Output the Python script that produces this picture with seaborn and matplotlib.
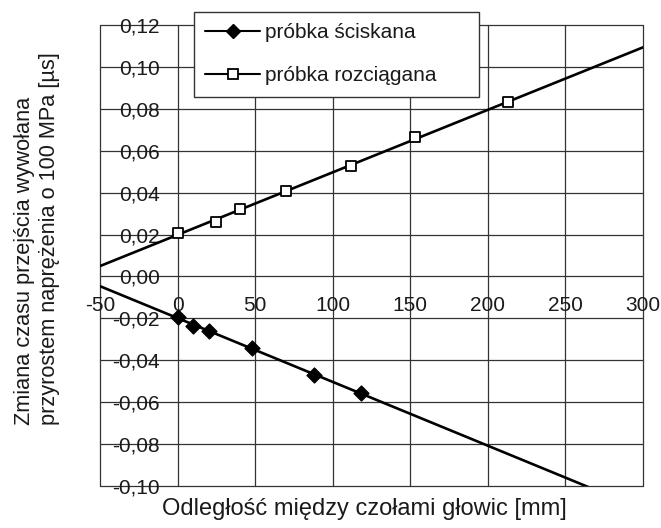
import numpy as np
import pandas as pd
import matplotlib
matplotlib.use("Agg")
import matplotlib.pyplot as plt
from matplotlib.lines import Line2D
from matplotlib.ticker import FuncFormatter
import seaborn as sns

# Compressed specimen: head spacing [mm] vs. transit time change [µs]
x_scisk = [0, 10, 20, 48, 88, 118]
y_scisk = [-0.0192, -0.0237, -0.0259, -0.0343, -0.0471, -0.0555]

# Stretched specimen
x_rozc = [0, 25, 40, 70, 112, 153, 213]
y_rozc = [0.0206, 0.0261, 0.0322, 0.0408, 0.0527, 0.0664, 0.0831]

labels = ["próbka ściskana", "próbka rozciągana"]
x_ticks = [-50, 0, 50, 100, 150, 200, 250, 300]
y_ticks = [-0.10, -0.08, -0.06, -0.04, -0.02, 0.00, 0.02, 0.04, 0.06, 0.08, 0.10, 0.12]
x_title = "Odległość między czołami głowic [mm]"
y_title = "Zmiana czasu przejścia wywołana\nprzyrostem naprężenia o 100 MPa [µs]"

df_s = pd.DataFrame({"x": x_scisk, "y": y_scisk})
df_r = pd.DataFrame({"x": x_rozc, "y": y_rozc})

sns.set_style("white")
plt.rcParams["font.family"] = ["Liberation Sans", "DejaVu Sans"]
plt.rcParams["font.size"] = 15
TXT = "#1a1a1a"
GRID = "#333333"

fig = plt.figure(figsize=(6.61, 5.28), dpi=100)
ax = fig.add_axes([100 / 661, 1 - 486 / 528, 543 / 661, 461 / 528])
ax.set_xlim(x_ticks[0], x_ticks[-1])
ax.set_ylim(y_ticks[0], y_ticks[-1])

# linear trend lines across the full x range
line_kw = dict(color="black", linewidth=1.9, zorder=3)
sns.regplot(data=df_s, x="x", y="y", ax=ax, scatter=False, ci=None,
            truncate=False, line_kws=line_kw)
sns.regplot(data=df_r, x="x", y="y", ax=ax, scatter=False, ci=None,
            truncate=False, line_kws=line_kw)

# measured points
sns.scatterplot(data=df_s, x="x", y="y", ax=ax, marker="D", s=60,
                color="black", edgecolor="black", linewidth=0.8, zorder=4)
sns.scatterplot(data=df_r, x="x", y="y", ax=ax, marker="s", s=52,
                facecolor="white", edgecolor="black", linewidth=1.3, zorder=4)

ax.set_xlim(x_ticks[0], x_ticks[-1])
ax.set_ylim(y_ticks[0], y_ticks[-1])
ax.set_xticks(x_ticks)
ax.set_yticks(y_ticks)
ax.xaxis.set_major_formatter(FuncFormatter(lambda v, p: f"{v:.0f}"))
ax.yaxis.set_major_formatter(FuncFormatter(lambda v, p: f"{v:.2f}".replace(".", ",")))

# axes cross at the origin; labels sit beside the zero lines
ax.spines["left"].set_position(("data", 0))
ax.spines["bottom"].set_position(("data", 0))
for s in ax.spines.values():
    s.set_visible(False)
ax.tick_params(axis="both", length=0, labelsize=15, labelcolor=TXT)
ax.tick_params(axis="x", pad=14)
ax.tick_params(axis="y", pad=13)

ax.grid(True, color=GRID, linewidth=0.9)
ax.set_axisbelow(True)
for gl in ax.get_xgridlines() + ax.get_ygridlines():
    gl.set_clip_on(False)

ax.set_xlabel("")
ax.set_ylabel("")
fig.text(364 / 661, 1 - 509 / 528, x_title, ha="center", va="center",
         fontsize=17, color=TXT)
fig.text(37 / 661, 1 - 425 / 528, y_title, ha="center", va="bottom",
         rotation=90, multialignment="left", fontsize=15.7, color=TXT,
         linespacing=1.2)

handles = [
    Line2D([], [], color="black", lw=1.5, marker="D", markersize=7.6,
           markerfacecolor="black", markeredgecolor="black"),
    Line2D([], [], color="black", lw=1.5, marker="s", markersize=7.2,
           markerfacecolor="white", markeredgecolor="black", markeredgewidth=1.3),
]
leg = fig.legend(handles, labels, loc="upper left",
                 bbox_to_anchor=(194 / 661, 1 - 97 / 528, 285 / 661, 85 / 528),
                 mode="expand", borderaxespad=0, fontsize=15, frameon=True,
                 fancybox=False, framealpha=1, edgecolor=GRID, borderpad=0.55,
                 labelspacing=1.15, handlelength=2.6, handletextpad=0.25)
leg.get_frame().set_linewidth(1.0)
for t in leg.get_texts():
    t.set_color(TXT)

fig.savefig("out.png", dpi=100)
